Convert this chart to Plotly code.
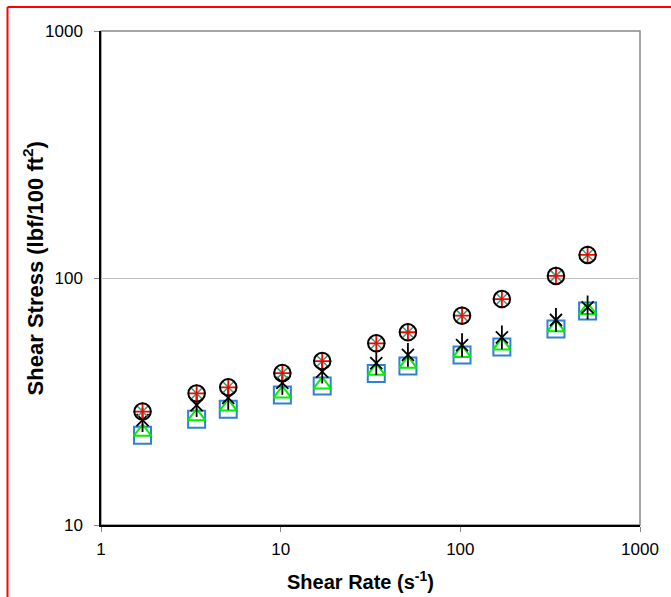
import plotly.graph_objects as go

shear_rate = [1.703, 3.406, 5.109, 10.22, 17.03, 34.06, 51.09, 102.2, 170.3, 340.6, 510.9]
stress_circle = [28.8, 34.1, 36.1, 41.2, 46.1, 54.4, 60.3, 70.4, 82.2, 102, 124]
stress_star = [26.6, 30.6, 32.7, 37.6, 41.8, 45.2, 48.8, 53.5, 57.5, 67.6, 76]
stress_square = [23.1, 26.8, 29.4, 33.6, 36.5, 41.1, 44.0, 48.8, 52.5, 62.2, 73.5]
stress_triangle = [23.8, 27.5, 30.1, 34.0, 37.0, 42.0, 44.9, 49.6, 53.2, 63.0, 74.0]

x_ticks = [1, 10, 100, 1000]
y_ticks = [10, 100, 1000]
x_title = "<b>Shear Rate (s<sup>-1</sup>)</b>"
y_title = "<b>Shear Stress (lbf/100 ft<sup>2</sup>)</b>"

fig = go.Figure()

def add(y, symbol, size, color, lw):
    fig.add_trace(go.Scatter(
        x=shear_rate, y=y, mode="markers", showlegend=False, hoverinfo="skip",
        marker=dict(symbol=symbol, size=size, color=color,
                    line=dict(color=color, width=lw)),
    ))

add(stress_square, "square-open", 17, "#2f80d4", 2)
add(stress_triangle, "triangle-up-open", 15, "#00ee00", 2)
add(stress_star, "x-thin-open", 12, "#000000", 1.8)
add(stress_star, "line-ns-open", 17, "#000000", 1.8)
add(stress_circle, "x-thin-open", 11, "#33a070", 1.5)
add(stress_circle, "cross-thin-open", 13, "#ff0000", 1.8)
add(stress_circle, "circle-open", 16.5, "#000000", 2)

font = "Liberation Sans, Arial, sans-serif"

L, R, T, B = 101, 643, 31, 525
W, H = 671, 597
pw, ph = R - L, B - T

def px(xp):
    return (xp - L) / pw

def py(yp):
    return (B - yp) / ph

fig.update_layout(
    width=W, height=H,
    margin=dict(l=L, r=W - R, t=T, b=H - B),
    paper_bgcolor="white", plot_bgcolor="white",
    font=dict(family=font, size=17, color="black"),
    shapes=[
        dict(type="line", xref="paper", yref="paper",
             x0=px(7), x1=px(680), y0=py(7), y1=py(7),
             line=dict(color="#ff0000", width=2), layer="above"),
        dict(type="line", xref="paper", yref="paper",
             x0=px(7), x1=px(7), y0=py(610), y1=py(7),
             line=dict(color="#ff0000", width=2), layer="above"),
        dict(type="rect", xref="paper", yref="paper", x0=0, x1=1, y0=0, y1=1,
             line=dict(color="#888888", width=1.5), layer="below"),
    ],
    annotations=[
        dict(text=x_title, xref="paper", yref="paper", x=px(362), y=py(580),
             xanchor="center", yanchor="middle", showarrow=False,
             font=dict(size=20, family=font, color="black")),
        dict(text=y_title, xref="paper", yref="paper", x=px(33), y=py(268),
             xanchor="center", yanchor="middle", showarrow=False, textangle=-90,
             font=dict(size=22, family=font, color="black")),
    ],
)

fig.update_xaxes(
    type="log", range=[0, 3], tickvals=x_ticks, ticktext=[str(v) for v in x_ticks],
    showgrid=False, zeroline=False,
    showline=True, linecolor="black", linewidth=1.5,
    ticks="outside", ticklen=5, tickcolor="#888888",
    tickfont=dict(size=17, family=font), ticklabelstandoff=3,
)
fig.update_yaxes(
    type="log", range=[1, 3], tickvals=y_ticks, ticktext=[str(v) for v in y_ticks],
    showgrid=True, gridcolor="#c0c0c0", gridwidth=1, zeroline=False,
    showline=True, linecolor="black", linewidth=1.5,
    ticks="outside", ticklen=5, tickcolor="#888888",
    tickfont=dict(size=17, family=font), ticklabelstandoff=8,
)

fig.write_html("out.html", config={"displayModeBar": False},
               post_script="document.body.style.margin='0';")
